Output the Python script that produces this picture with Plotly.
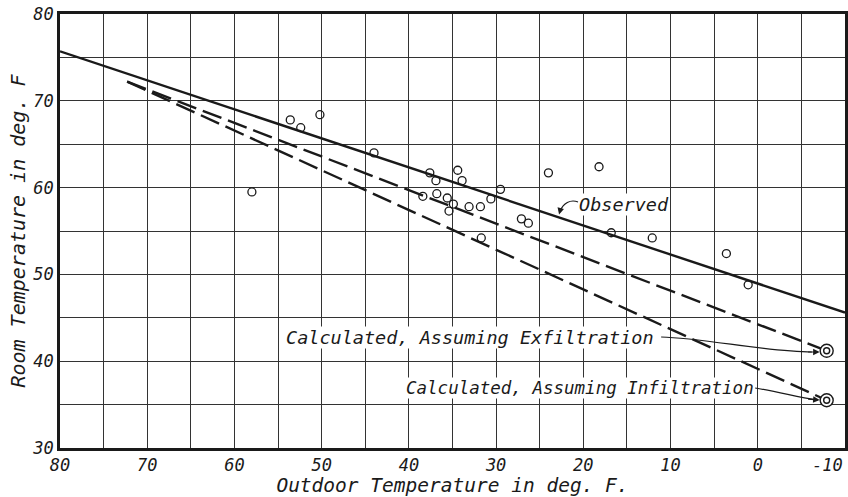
import plotly.graph_objects as go

# ---------------- data ----------------
# observed points (outdoor temp, room temp)
obs_x = [58.0, 53.6, 52.4, 50.2, 44.0, 38.4, 37.6, 36.9, 36.8, 35.6, 35.4, 34.9,
         34.4, 33.9, 33.1, 31.8, 31.7, 30.6, 29.5, 27.1, 26.3, 24.0, 18.2, 16.8,
         12.1, 3.6, 1.1]
obs_y = [59.5, 67.8, 66.9, 68.4, 64.0, 59.0, 61.7, 60.8, 59.3, 58.8, 57.3, 58.1,
         62.0, 60.8, 57.8, 57.8, 54.2, 58.7, 59.8, 56.4, 55.9, 61.7, 62.4, 54.8,
         54.2, 52.4, 48.8]

# fitted / calculated lines
observed_x = [80, -10]
observed_y = [75.7, 45.6]
exfil_x = [72.3, -7.9]
exfil_y = [72.2, 41.2]
infil_x = [72.3, -7.9]
infil_y = [72.2, 35.5]

x_tickvals = [80, 70, 60, 50, 40, 30, 20, 10, 0, -10]
x_ticktext = ["80", "70", "60", "50", "40", "30", "20", "10", "0", "-10"]
y_tickvals = [30, 40, 50, 60, 70, 80]
y_ticktext = ["30", "40", "50", "60", "70", "80"]

FONT = "DejaVu Sans Mono"
INK = "#1a1a1a"
GRID = "#333333"

fig = go.Figure()

fig.add_trace(go.Scatter(x=observed_x, y=observed_y, mode="lines",
                         line=dict(color=INK, width=2.4), showlegend=False))
fig.add_trace(go.Scatter(x=exfil_x, y=exfil_y, mode="lines",
                         line=dict(color=INK, width=2.4, dash="20px,7px"), showlegend=False))
fig.add_trace(go.Scatter(x=infil_x, y=infil_y, mode="lines",
                         line=dict(color=INK, width=2.4, dash="20px,7px"), showlegend=False))
fig.add_trace(go.Scatter(x=obs_x, y=obs_y, mode="markers",
                         marker=dict(symbol="circle-open", size=8, color=INK,
                                     line=dict(width=1.3, color=INK)),
                         showlegend=False))
# bullseye end markers
end_x = [exfil_x[-1], infil_x[-1]]
end_y = [exfil_y[-1], infil_y[-1]]
fig.add_trace(go.Scatter(x=end_x, y=end_y, mode="markers",
                         marker=dict(symbol="circle", size=13, color="white",
                                     line=dict(width=1.4, color=INK)),
                         showlegend=False))
fig.add_trace(go.Scatter(x=end_x, y=end_y, mode="markers",
                         marker=dict(symbol="circle-open", size=6, color=INK,
                                     line=dict(width=1.4, color=INK)),
                         showlegend=False))

lab_font = dict(family=FONT, size=18.5, color=INK, style="italic")
lab_font_small = dict(family=FONT, size=17.5, color=INK, style="italic")
tick_font = dict(family=FONT, size=17, color=INK, style="italic")

# the last x tick label sits flush against the right edge, so it is drawn right-aligned
axis_ticktext = x_ticktext[:-1] + [""]

annotations = [
    dict(x=x_tickvals[-1], y=0, xref="x", yref="paper", text=x_ticktext[-1],
         showarrow=False, font=tick_font, xanchor="right", yanchor="middle", yshift=-17),
    dict(x=15.3, y=58.0, xref="x", yref="y", text="Observed", showarrow=False,
         font=lab_font, bgcolor="white", borderpad=0, xanchor="center", yanchor="middle"),
    dict(x=54.2, y=42.7, xref="x", yref="y", text="Calculated, Assuming Exfiltration",
         showarrow=False, font=lab_font, bgcolor="white", borderpad=0,
         xanchor="left", yanchor="middle"),
    dict(x=40.4, y=36.9, xref="x", yref="y", text="Calculated, Assuming Infiltration",
         showarrow=False, font=lab_font_small, bgcolor="white", borderpad=0,
         xanchor="left", yanchor="middle"),
    # arrowheads at the end of the leader curves
    dict(x=-7.1, y=41.06, ax=-5.6, ay=41.06, xref="x", yref="y", axref="x", ayref="y",
         text="", showarrow=True, arrowhead=2, arrowsize=1.1, arrowwidth=1.2, arrowcolor=INK),
    dict(x=-7.1, y=35.53, ax=-5.6, ay=35.65, xref="x", yref="y", axref="x", ayref="y",
         text="", showarrow=True, arrowhead=2, arrowsize=1.1, arrowwidth=1.2, arrowcolor=INK),
    dict(x=22.78, y=56.9, ax=22.6, ay=57.6, xref="x", yref="y", axref="x", ayref="y",
         text="", showarrow=True, arrowhead=2, arrowsize=1.1, arrowwidth=1.2, arrowcolor=INK),
]

shapes = [
    dict(type="path", xref="x", yref="y",
         path="M 11.08,42.79 C 6.03,42.67 -0.85,41.06 -6.2,41.06",
         line=dict(color=INK, width=1.2)),
    dict(type="path", xref="x", yref="y",
         path="M 0.3,36.91 C -2.57,36.45 -4.86,35.76 -6.6,35.58",
         line=dict(color=INK, width=1.2)),
    dict(type="path", xref="x", yref="y",
         path="M 20.6,58.34 C 21.5,58.69 22.3,58.2 22.66,57.3",
         line=dict(color=INK, width=1.2)),
]

fig.update_layout(
    width=848, height=497,
    margin=dict(l=60, r=3, t=14, b=49),
    paper_bgcolor="white", plot_bgcolor="white",
    font=dict(family=FONT, color=INK),
    annotations=annotations,
    shapes=shapes,
)

fig.update_xaxes(
    range=[80, -10], tickmode="array", tickvals=x_tickvals, ticktext=axis_ticktext,
    tickfont=tick_font,
    showgrid=True, gridcolor=GRID, gridwidth=1.3,
    minor=dict(tickmode="linear", tick0=0, dtick=5, showgrid=True,
               gridcolor=GRID, gridwidth=1.3),
    showline=True, mirror=True, linecolor=INK, linewidth=2.5,
    ticks="", zeroline=False, automargin=False,
    title=dict(text="Outdoor Temperature in deg. F.",
               font=dict(family=FONT, size=19.5, color=INK, style="italic"), standoff=4),
)
fig.update_yaxes(
    range=[30, 80], tickmode="array", tickvals=y_tickvals, ticktext=y_ticktext,
    tickfont=tick_font,
    showgrid=True, gridcolor=GRID, gridwidth=1.3,
    minor=dict(tickmode="linear", tick0=0, dtick=5, showgrid=True,
               gridcolor=GRID, gridwidth=1.3),
    showline=True, mirror=True, linecolor=INK, linewidth=2.5,
    ticks="", zeroline=False, automargin=False,
    title=dict(text="Room Temperature in deg. F",
               font=dict(family=FONT, size=20, color=INK, style="italic"), standoff=2),
)

fig.write_html("out.html")
